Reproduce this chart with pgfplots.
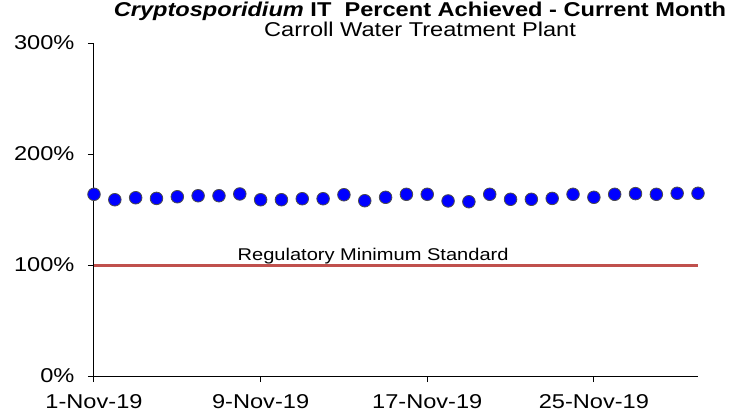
\documentclass[border=0pt]{standalone}
\usepackage{pgfplots}
\pgfplotsset{compat=1.18}
\usepackage{pgfplotstable}
\usepackage{fontspec}
\setmainfont{Liberation Sans}[FakeStretch=1.18]
\definecolor{regred}{RGB}{192,80,77}
\pgfplotstableread{
day pct
1 163.7
2 158.8
3 160.6
4 160.0
5 161.5
6 162.4
7 162.4
8 164.0
9 158.8
10 158.8
11 159.7
12 159.7
13 163.3
14 157.9
15 161.0
16 163.7
17 163.7
18 157.7
19 157.0
20 163.7
21 159.2
22 159.2
23 160.0
24 163.7
25 161.0
26 163.7
27 164.3
28 163.7
29 164.6
30 164.6
}\itdata
\pgfplotstableread{
day pct
1 100
30 100
}\regdata
\begin{document}
\begin{tikzpicture}
\begin{axis}[
  scale only axis, width=604bp, height=333bp,
  xmin=1, xmax=30, ymin=0, ymax=300,
  axis x line*=bottom, axis y line*=left,
  axis line style={black, line width=1bp},
  xtick={1,9,17,25},
  xticklabels={1-Nov-19,9-Nov-19,17-Nov-19,25-Nov-19},
  ytick={0,100,200,300},
  yticklabel={\pgfmathprintnumber{\tick}\%},
  /pgf/number format/assume math mode=true,
  tick align=outside, major tick length=6bp,
  tick style={black, line width=1bp},
  tick label style={font=\fontsize{20bp}{24bp}\selectfont},
  yticklabel style={xshift=-10bp},
  xticklabel style={yshift=-9bp},
  clip=false,
]
\addplot[regred, line width=3bp] table[x=day, y=pct] {\regdata};
\addplot[only marks, mark=*, mark size=6.3bp,
  mark options={fill=blue, draw=black!70, line width=0.8bp}]
  table[x=day, y=pct] {\itdata};
\node[anchor=base, font=\fontsize{17bp}{20bp}\selectfont] at (axis cs:14.4,103.9) {Regulatory Minimum Standard};
\end{axis}
\node[anchor=base, inner sep=0pt, font=\fontsize{20bp}{24bp}\selectfont\bfseries] at (326bp,359.5bp) {\textit{Cryptosporidium} IT\ \ Percent Achieved - Current Month};
\node[anchor=base, inner sep=0pt, font=\fontsize{20bp}{24bp}\selectfont] at (326bp,339bp) {Carroll Water Treatment Plant};
\pgfresetboundingbox
\useasboundingbox (-94bp,-36bp) rectangle (649bp,376bp);
\end{tikzpicture}
\end{document}
